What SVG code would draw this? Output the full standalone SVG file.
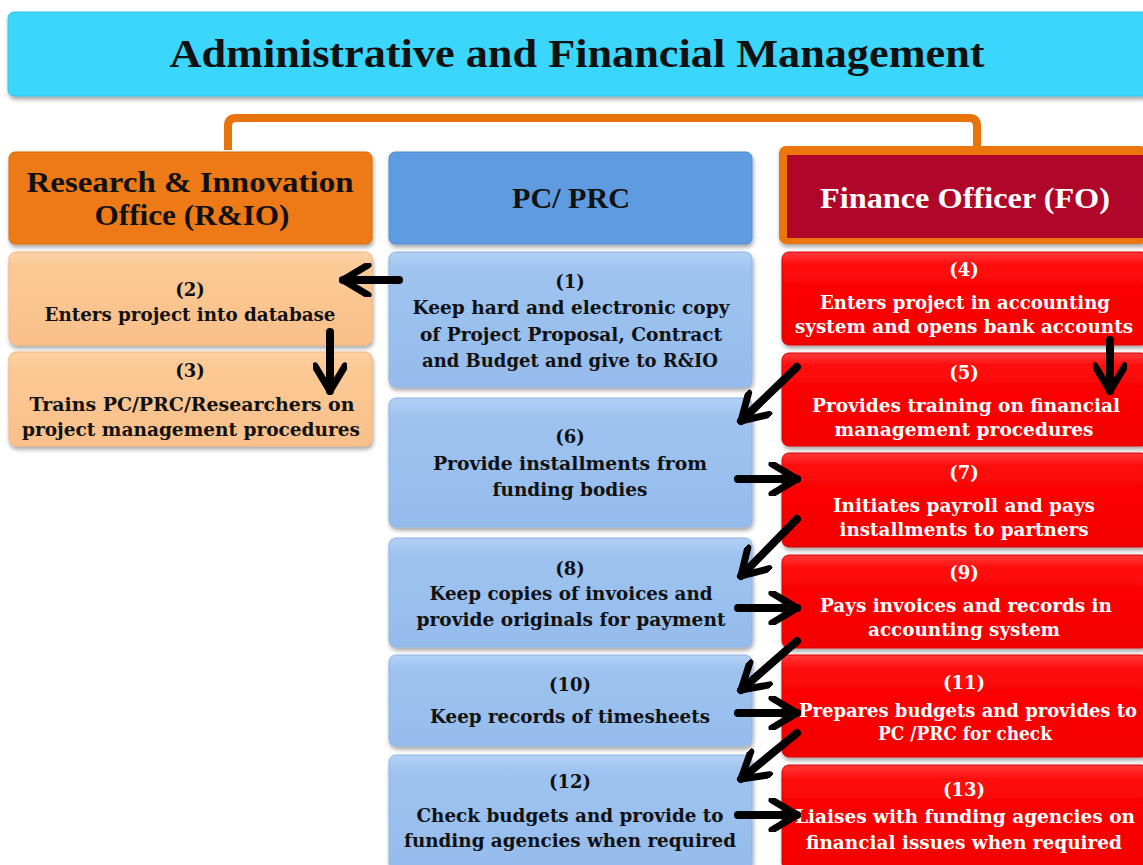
<svg xmlns="http://www.w3.org/2000/svg" width="1143" height="865" viewBox="0 0 1143 865">
<defs>
<filter id="sh" x="-5%" y="-5%" width="110%" height="120%">
<feDropShadow dx="1" dy="3" stdDeviation="2" flood-color="#000" flood-opacity="0.35"/>
</filter>
<marker id="ah" viewBox="0 0 34 34" refX="30" refY="17" markerWidth="34" markerHeight="34" markerUnits="userSpaceOnUse" orient="auto">
<path d="M5,2 L30,17 L5,32" fill="none" stroke="#000" stroke-width="7" stroke-linejoin="miter" stroke-linecap="round"/>
</marker>
<linearGradient id="gPeach" x1="0" y1="0" x2="0" y2="1"><stop offset="0" stop-color="#fdd3a6"/><stop offset="0.15" stop-color="#fcc995"/><stop offset="1" stop-color="#f9c08a"/></linearGradient>
<linearGradient id="gBlue" x1="0" y1="0" x2="0" y2="1"><stop offset="0" stop-color="#b3d1f5"/><stop offset="0.15" stop-color="#9ec3f0"/><stop offset="1" stop-color="#95bcec"/></linearGradient>
<linearGradient id="gRed" x1="0" y1="0" x2="0" y2="1"><stop offset="0" stop-color="#ff3a3a"/><stop offset="0.15" stop-color="#ff0808"/><stop offset="1" stop-color="#f20000"/></linearGradient>
</defs>
<style>
.hd{font-family:"Liberation Serif",serif;font-weight:bold;text-anchor:middle}
.tx{font-family:"DejaVu Serif","Liberation Serif",serif;font-weight:bold;font-size:18px;text-anchor:middle}
.dk{fill:#111}
.wt{fill:#fff}
.peach{fill:url(#gPeach);stroke:#f2b477;stroke-width:1;filter:url(#sh)}
.blue{fill:url(#gBlue);stroke:#8bb2e4;stroke-width:1;filter:url(#sh)}
.red{fill:url(#gRed);stroke:#d80000;stroke-width:1;filter:url(#sh)}
.arr{fill:none;stroke:#000;stroke-width:8;stroke-linecap:round;marker-end:url(#ah)}
</style>
<rect width="1143" height="865" fill="#fff"/>

<g id="title">
<rect x="8" y="12" width="1140" height="84" rx="6" fill="#3ad6fb" stroke="#2fc4ea" filter="url(#sh)"/>
<text class="hd dk" x="577" y="67" font-size="40" textLength="815" lengthAdjust="spacingAndGlyphs">Administrative and Financial Management</text>
</g>

<g id="bracket">
<path d="M228,150 L228,126 Q228,118 236,118 L969,118 Q977,118 977,126 L977,150" fill="none" stroke="#e8720c" stroke-width="8"/>
</g>

<g id="hdr-rio">
<rect x="9" y="152" width="363" height="92" rx="6" fill="#ed7a16" stroke="#d86a0a" filter="url(#sh)"/>
<text class="hd dk" x="190" y="192" font-size="30" textLength="327" lengthAdjust="spacingAndGlyphs">Research &amp; Innovation</text>
<text class="hd dk" x="192" y="225" font-size="30" textLength="195" lengthAdjust="spacingAndGlyphs">Office (R&amp;IO)</text>
</g>

<g id="hdr-pc">
<rect x="389" y="152" width="363" height="92" rx="6" fill="#5e9be0" stroke="#4e8ad0" filter="url(#sh)"/>
<text class="hd dk" x="571" y="208" font-size="30" textLength="118" lengthAdjust="spacingAndGlyphs">PC/ PRC</text>
</g>

<g id="hdr-fo">
<rect x="779" y="146" width="368" height="98" rx="7" fill="#ec7410" filter="url(#sh)"/>
<rect x="787" y="155" width="360" height="83" fill="#b0062a"/>
<text class="hd wt" x="965" y="208" font-size="30" textLength="290" lengthAdjust="spacingAndGlyphs">Finance Officer (FO)</text>
</g>

<g id="n2">
<rect class="peach" x="9" y="252" width="363" height="93" rx="7"/>
<text class="tx dk" x="190" y="296">(2)</text>
<text class="tx dk" x="190" y="321" textLength="291" lengthAdjust="spacingAndGlyphs">Enters project into database</text>
</g>
<g id="n3">
<rect class="peach" x="9" y="352" width="363" height="94" rx="7"/>
<text class="tx dk" x="190" y="377">(3)</text>
<text class="tx dk" x="192" y="411" textLength="325" lengthAdjust="spacingAndGlyphs">Trains PC/PRC/Researchers on</text>
<text class="tx dk" x="191" y="436" textLength="338" lengthAdjust="spacingAndGlyphs">project management procedures</text>
</g>

<g id="n1">
<rect class="blue" x="389" y="252" width="363" height="135" rx="7"/>
<text class="tx dk" x="570" y="288">(1)</text>
<text class="tx dk" x="571" y="314" textLength="317" lengthAdjust="spacingAndGlyphs">Keep hard and electronic copy</text>
<text class="tx dk" x="571" y="341" textLength="302" lengthAdjust="spacingAndGlyphs">of Project  Proposal, Contract</text>
<text class="tx dk" x="570" y="367" textLength="296" lengthAdjust="spacingAndGlyphs">and Budget and give to R&amp;IO</text>
</g>
<g id="n6">
<rect class="blue" x="389" y="398" width="363" height="129" rx="7"/>
<text class="tx dk" x="570" y="443">(6)</text>
<text class="tx dk" x="570" y="470" textLength="274" lengthAdjust="spacingAndGlyphs">Provide installments from</text>
<text class="tx dk" x="570" y="496" textLength="155" lengthAdjust="spacingAndGlyphs">funding bodies</text>
</g>
<g id="n8">
<rect class="blue" x="389" y="538" width="363" height="109" rx="7"/>
<text class="tx dk" x="570" y="575">(8)</text>
<text class="tx dk" x="571" y="600" textLength="283" lengthAdjust="spacingAndGlyphs">Keep copies of invoices and</text>
<text class="tx dk" x="571" y="626" textLength="309" lengthAdjust="spacingAndGlyphs">provide originals for payment</text>
</g>
<g id="n10">
<rect class="blue" x="389" y="655" width="363" height="91" rx="7"/>
<text class="tx dk" x="570" y="691">(10)</text>
<text class="tx dk" x="570" y="723" textLength="280" lengthAdjust="spacingAndGlyphs">Keep records of timesheets</text>
</g>
<g id="n12">
<rect class="blue" x="389" y="755" width="363" height="115" rx="7"/>
<text class="tx dk" x="570" y="788">(12)</text>
<text class="tx dk" x="570" y="822" textLength="307" lengthAdjust="spacingAndGlyphs">Check budgets and provide to</text>
<text class="tx dk" x="570" y="847" textLength="332" lengthAdjust="spacingAndGlyphs">funding agencies when required</text>
</g>

<g id="n4">
<rect class="red" x="782" y="252" width="366" height="93" rx="7"/>
<text class="tx wt" x="964" y="276">(4)</text>
<text class="tx wt" x="965" y="309" textLength="290" lengthAdjust="spacingAndGlyphs">Enters project in accounting</text>
<text class="tx wt" x="964" y="333" textLength="338" lengthAdjust="spacingAndGlyphs">system and opens bank accounts</text>
</g>
<g id="n5">
<rect class="red" x="782" y="353" width="366" height="93" rx="7"/>
<text class="tx wt" x="964" y="379">(5)</text>
<text class="tx wt" x="966" y="412" textLength="308" lengthAdjust="spacingAndGlyphs">Provides training on financial</text>
<text class="tx wt" x="964" y="436" textLength="259" lengthAdjust="spacingAndGlyphs">management procedures</text>
</g>
<g id="n7">
<rect class="red" x="782" y="453" width="366" height="94" rx="7"/>
<text class="tx wt" x="964" y="479">(7)</text>
<text class="tx wt" x="964" y="512" textLength="262" lengthAdjust="spacingAndGlyphs">Initiates payroll and pays</text>
<text class="tx wt" x="964" y="536" textLength="249" lengthAdjust="spacingAndGlyphs">installments to partners</text>
</g>
<g id="n9">
<rect class="red" x="782" y="555" width="366" height="93" rx="7"/>
<text class="tx wt" x="964" y="579">(9)</text>
<text class="tx wt" x="966" y="612" textLength="292" lengthAdjust="spacingAndGlyphs">Pays invoices and records in</text>
<text class="tx wt" x="964" y="636" textLength="192" lengthAdjust="spacingAndGlyphs">accounting system</text>
</g>
<g id="n11">
<rect class="red" x="782" y="655" width="366" height="102" rx="7"/>
<text class="tx wt" x="964" y="689">(11)</text>
<text class="tx wt" x="968" y="717" textLength="338" lengthAdjust="spacingAndGlyphs">Prepares budgets and provides to</text>
<text class="tx wt" x="965" y="740" textLength="174" lengthAdjust="spacingAndGlyphs">PC /PRC for check</text>
</g>
<g id="n13">
<rect class="red" x="782" y="765" width="366" height="105" rx="7"/>
<text class="tx wt" x="964" y="796">(13)</text>
<text class="tx wt" x="965" y="823" textLength="340" lengthAdjust="spacingAndGlyphs">Liaises with funding agencies on</text>
<text class="tx wt" x="964" y="849" textLength="316" lengthAdjust="spacingAndGlyphs">financial issues when required</text>
</g>

<g id="connectors">
<path class="arr" d="M399,280 L343,280"/>
<path class="arr" d="M330,332 L330,391"/>
<path class="arr" d="M1110,340 L1110,391"/>
<path class="arr" d="M797,367 L741,421"/>
<path class="arr" d="M738,479 L797,479"/>
<path class="arr" d="M797,519 L741,576"/>
<path class="arr" d="M738,608 L797,608"/>
<path class="arr" d="M797,641 L741,690"/>
<path class="arr" d="M738,713 L797,713"/>
<path class="arr" d="M797,733 L741,779"/>
<path class="arr" d="M738,815 L797,815"/>
</g>
</svg>
